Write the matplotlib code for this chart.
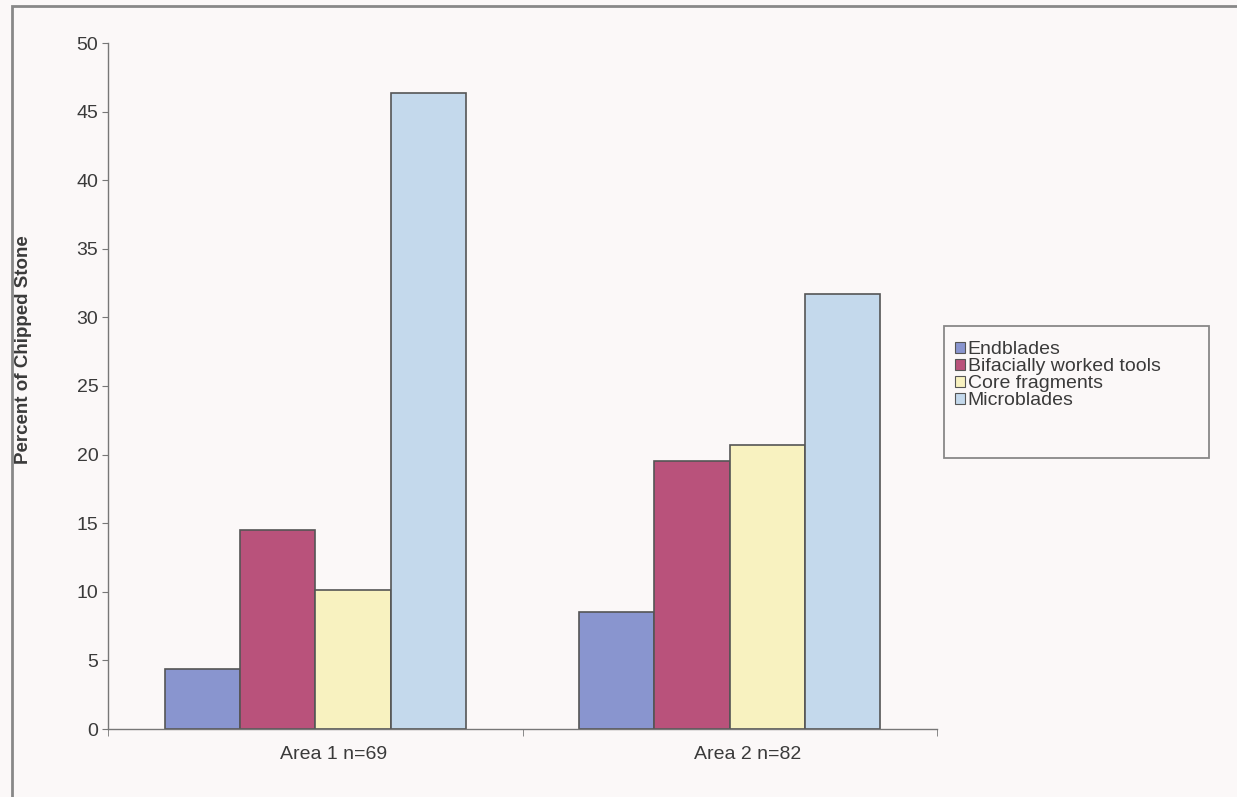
import matplotlib.pyplot as plt
import matplotlib.transforms as mtransforms
import numpy as np
from matplotlib.patches import Rectangle

plt.rcParams['font.family'] = ['Liberation Sans', 'DejaVu Sans']

# percent of chipped stone per area
areas = ['Area 1 n=69', 'Area 2 n=82']
categories = ['Endblades', 'Bifacially worked tools', 'Core fragments', 'Microblades']
endblades = [4.35, 8.54]
bifacial = [14.49, 19.51]
core = [10.14, 20.73]
microblades = [46.38, 31.71]
series = [endblades, bifacial, core, microblades]
colors = ['#8995cf', '#b9527b', '#f8f2c0', '#c4d9ec']

W, H = 1237, 797
bg = '#fbf8f8'
fig = plt.figure(figsize=(W / 100, H / 100), dpi=100, facecolor=bg)
ax = fig.add_axes([108 / W, 1 - 729 / H, 829 / W, 686 / H], facecolor=bg)

x = np.arange(len(areas))
w = 1 / 5.5
for i, (vals, c) in enumerate(zip(series, colors)):
    ax.bar(x + (i - 1.5) * w, vals, w, color=c, edgecolor='#555555',
           linewidth=1.2, label=categories[i])

ax.set_xlim(-0.5, 1.5)
ax.set_ylim(0, 50)
ax.set_yticks(range(0, 51, 5))
ax.set_xticks(x)
ax.set_xticklabels(areas)
ax.set_xticks([-0.5, 0.5, 1.5], minor=True)
ax.tick_params(axis='x', which='major', length=0, pad=12, labelsize=14, colors='#3a3a3a')
ax.tick_params(axis='x', which='minor', length=5, color='#777777')
ax.tick_params(axis='y', length=4, color='#777777', labelsize=14, labelcolor='#3a3a3a', pad=3)
shift = mtransforms.ScaledTranslation(0.18, 0, fig.dpi_scale_trans)
for lbl in ax.get_xticklabels():
    lbl.set_transform(lbl.get_transform() + shift)
for s in ('top', 'right'):
    ax.spines[s].set_visible(False)
for s in ('left', 'bottom'):
    ax.spines[s].set_color('#777777')
    ax.spines[s].set_linewidth(1.0)

fig.text(0.019, 1 - 350 / H, 'Percent of Chipped Stone', rotation=90, va='center', ha='center',
         fontsize=13.5, fontweight='bold', color='#3a3a3a')

# legend entries, with the frame drawn separately below
handles, labels = ax.get_legend_handles_labels()
leg = fig.legend(handles, labels, loc='upper left', bbox_to_anchor=(955 / W, 1 - 341 / H),
                 bbox_transform=fig.transFigure, frameon=False, fontsize=14,
                 handlelength=0.5, handleheight=0.5, handletextpad=0.15,
                 labelspacing=0.0, borderpad=0, borderaxespad=0)
for t in leg.get_texts():
    t.set_color('#3a3a3a')
for p in leg.get_patches():
    p.set_linewidth(0.8)

fig.patches.append(Rectangle((944 / W, 1 - 458 / H), 265 / W, 132 / H,
                             transform=fig.transFigure, fill=False,
                             edgecolor='#888888', linewidth=1.3))

# outer chart border
fig.patches.append(Rectangle((12 / W, -0.02), 1.05, 1 - 6 / H + 0.02,
                             transform=fig.transFigure, fill=False,
                             edgecolor='#888888', linewidth=2))

fig.savefig('out.png', dpi=100, facecolor=bg)
